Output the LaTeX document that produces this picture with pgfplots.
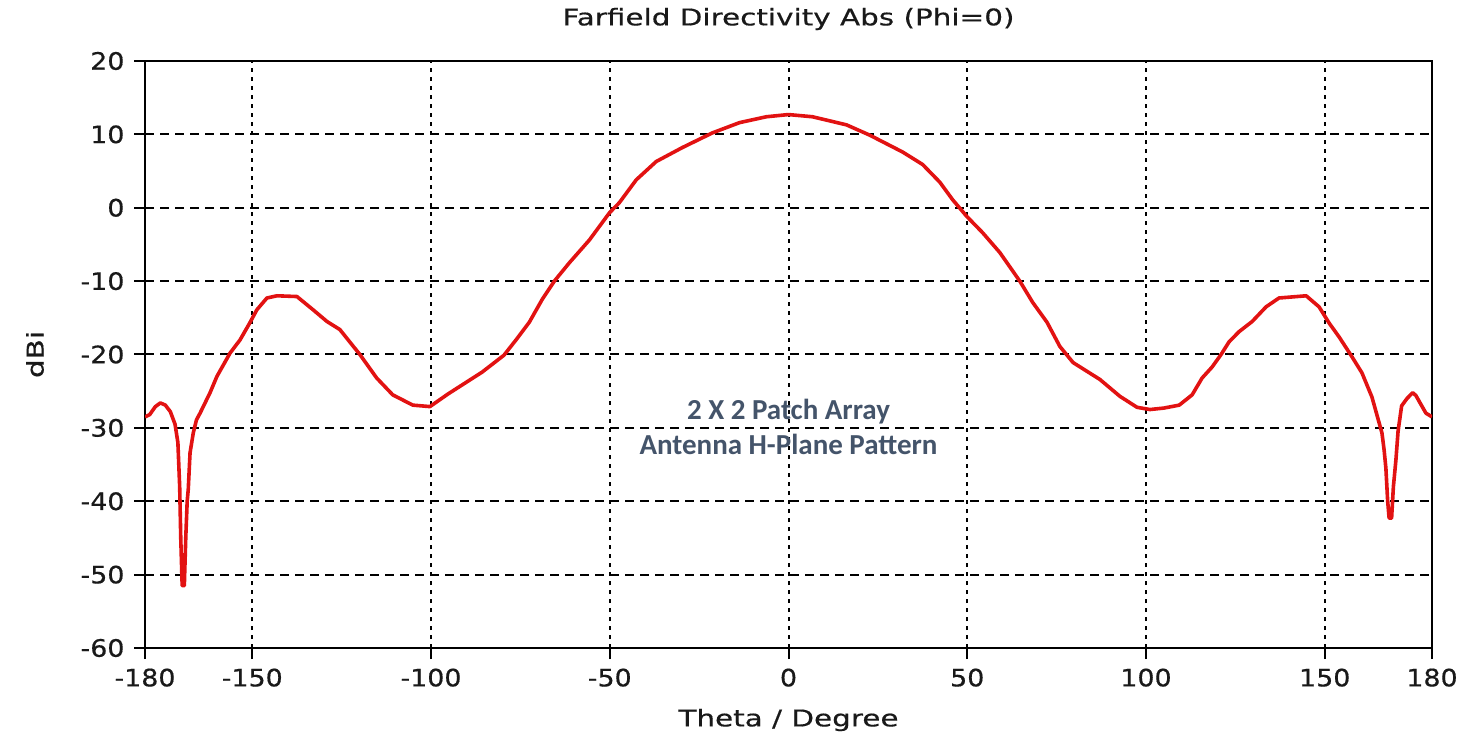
\documentclass[border=0pt]{standalone}
\usepackage{fontspec}
\setmainfont{DejaVu Sans}
\newfontfamily\labfont[FakeStretch=1.28,FakeBold=0.4]{DejaVu Sans}
\newfontfamily\tickfont[FakeStretch=1.12,FakeBold=0.5]{DejaVu Sans}
\newfontfamily\annfont{Carlito}
\usepackage{pgfplots}
\usepackage{pgfplotstable}
\pgfplotsset{compat=1.18}
\definecolor{curvered}{RGB}{226,18,18}
\definecolor{anncol}{RGB}{68,84,106}
\definecolor{txtcol}{RGB}{25,25,25}
\pgfplotstableread{
theta dbi
-180 -28.5
-178.7 -28.2
-177.1 -27.1
-175.7 -26.6
-174.3 -26.9
-172.9 -27.8
-171.6 -29.5
-170.8 -32
-170.3 -38
-170.0 -45
-169.6 -51.5
-169.0 -51.5
-168.6 -45
-168.2 -40
-167.9 -38.4
-167.4 -33.4
-166.5 -30.7
-165.6 -28.9
-164.6 -28
-161.8 -25.2
-159.9 -23
-156.2 -19.8
-153.4 -18
-150.7 -15.7
-148.7 -13.9
-145.9 -12.3
-143.1 -12
-137.5 -12.1
-133 -13.9
-129.1 -15.5
-125.5 -16.6
-119.9 -20
-115.2 -23.2
-110.7 -25.5
-105.1 -26.9
-100.3 -27.1
-95.3 -25.4
-85.7 -22.4
-79.6 -20.1
-76.2 -18
-72.5 -15.6
-68.9 -12.5
-65.5 -10
-61.3 -7.5
-55.7 -4.4
-50.1 -0.7
-47.3 0.7
-42.6 3.8
-37 6.3
-29.7 8.2
-21.3 10.2
-13.7 11.6
-6.2 12.4
0 12.7
6.7 12.4
16.2 11.3
22.7 9.9
31.9 7.6
37.5 5.9
42.3 3.5
45.9 1.1
49.9 -1.2
54.3 -3.4
59.1 -6.1
64.7 -10
68.3 -12.9
72.3 -15.6
75.9 -18.9
79.6 -21.1
87.1 -23.4
92.7 -25.7
97.5 -27.2
101.1 -27.5
105 -27.3
109.3 -26.9
112.9 -25.5
115.7 -23.2
118.5 -21.7
121 -20
123.2 -18.3
126 -16.9
129.7 -15.5
133.6 -13.5
137.2 -12.3
144.8 -12
148.4 -13.5
151.2 -15.7
154 -17.6
157.6 -20.3
160.4 -22.5
163.2 -25.8
166 -30.7
166.6 -33
167.1 -35.5
167.6 -40
168.0 -42.3
168.7 -42.3
169.2 -38
169.9 -34.4
170.5 -30.5
171.5 -27
173 -26
174.6 -25.2
175.5 -25.6
178.3 -28
180 -28.5
}\pattern
\begin{document}
\begin{tikzpicture}
\useasboundingbox (0,0) rectangle (1480pt,734pt);
\begin{axis}[
  at={(145pt,86pt)}, anchor=south west,
  scale only axis, width=1287pt, height=587pt,
  xmin=-180, xmax=180, ymin=-60, ymax=20,
  xtick={-180,-150,-100,-50,0,50,100,150,180},
  ytick={-60,-50,-40,-30,-20,-10,0,10,20},
  xtick pos=bottom, ytick pos=left,
  tick align=outside, major tick length=11pt,
  tick style={black, line width=2pt},
  axis line style={black, line width=2.2pt},
  /pgf/number format/assume math mode=true,
  ticklabel style={font=\tickfont\fontsize{24}{28}\selectfont, text=txtcol},
  xticklabel style={yshift=-6pt},
  yticklabel style={xshift=-6pt},
  grid=major,
  x grid style={black, line width=2pt, dash pattern=on 4pt off 5pt},
  y grid style={black, line width=2pt, dash pattern=on 9pt off 6pt},
  title={Farfield Directivity Abs (Phi=0)},
  title style={font=\labfont\fontsize{23}{27}\selectfont, text=txtcol, at={(axis description cs:0.5,1.0613)}, anchor=center},
  xlabel={Theta / Degree},
  xlabel style={font=\labfont\fontsize{23}{27}\selectfont, text=txtcol, at={(axis description cs:0.5,-0.1227)}, anchor=center},
  ylabel={dBi},
  ylabel style={font=\labfont\fontsize{23}{27}\selectfont, text=txtcol, at={(axis description cs:-0.0855,0.5)}, anchor=center},
]
\addplot[curvered, line width=3.6pt, line join=round] table[x=theta,y=dbi] {\pattern};
\node[align=center, text=anncol, font={\annfont\bfseries\fontsize{29}{35}\selectfont}] at (axis cs:0,-29.9) {2 X 2 Patch Array\\Antenna H-Plane Pattern};
\end{axis}
\end{tikzpicture}
\end{document}
